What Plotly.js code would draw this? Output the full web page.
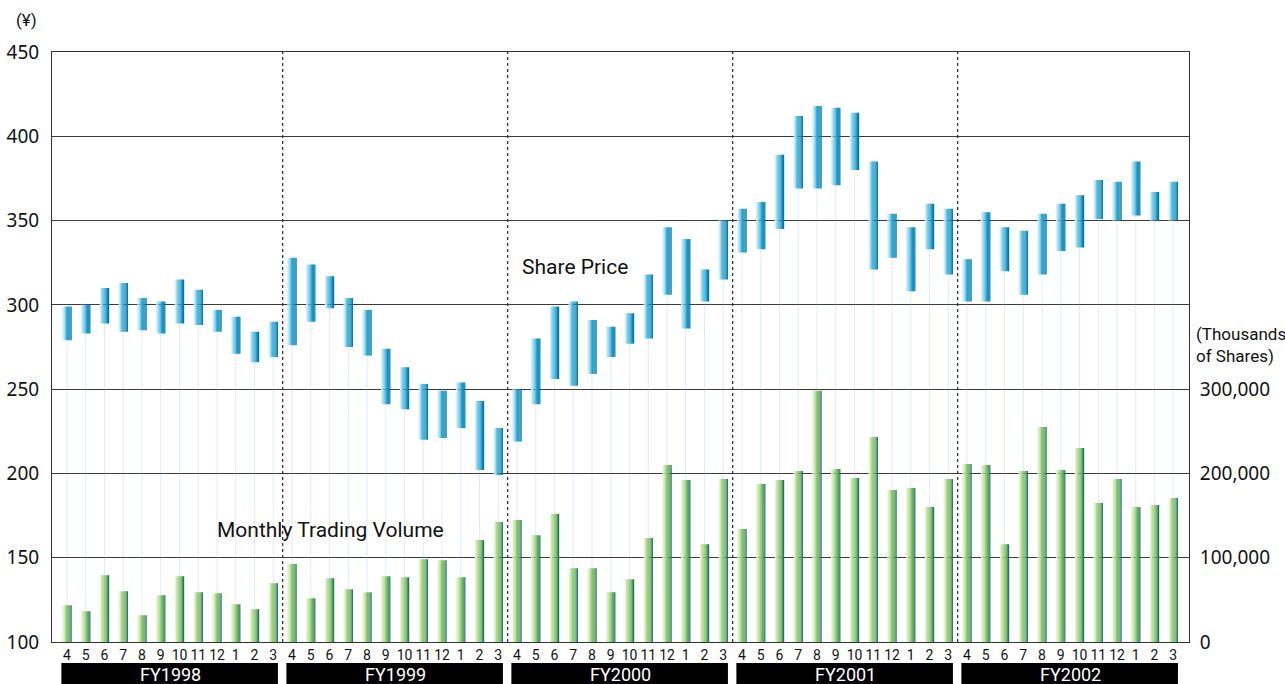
<!DOCTYPE html>
<html>
<head>
<meta charset="utf-8">
<script src="https://cdn.plot.ly/plotly-3.0.1.min.js"></script>
<style>html,body{margin:0;padding:0;background:#fff;}#chart{width:1285px;height:684px;}</style>
</head>
<body>
<div id="chart"></div>
<script>
// ---- data ----
const fiscalYears = ['FY1998','FY1999','FY2000','FY2001','FY2002'];
const monthLabels = ['4','5','6','7','8','9','10','11','12','1','2','3'];
// monthly share price range (yen)
const priceHigh = [299,300,310,313,304,302,315,309,297,293,284,290,
                   328,324,317,304,297,274,263,253,249,254,243,227,
                   250,280,299,302,291,287,295,318,346,339,321,350,
                   357,361,389,412,418,417,414,385,354,346,360,357,
                   327,355,346,344,354,360,365,374,373,385,367,373];
const priceLow  = [279,283,289,284,285,283,289,288,284,271,266,269,
                   276,290,298,275,270,241,238,220,221,227,202,199,
                   219,241,256,252,259,269,277,280,306,286,302,315,
                   331,333,345,369,369,371,380,321,328,308,333,318,
                   302,302,320,306,318,332,334,351,350,353,350,350];
// monthly trading volume (thousands of shares)
const volume    = [43600,36500,79300,60300,31700,55500,78100,59100,57900,44800,38900,69800,
                   92400,51900,75700,62600,59100,78100,76900,98300,97100,76900,120900,142300,
                   144700,126800,151800,87600,87600,59100,74500,123300,210000,192200,116100,193400,
                   134000,187500,192200,202900,298000,205300,194600,243300,180300,182700,160100,193400,
                   211200,210000,116100,202900,255200,204100,230300,164900,193400,160100,162500,170800];
const volTickVals = [0,100000,200000,300000];
const volTickText = ['0','100,000','200,000','300,000'];

// ---- build ----
const idx = priceHigh.map((_, i) => i);
const ticktext = [];
fiscalYears.forEach(() => monthLabels.forEach(m => ticktext.push(m)));

const narrow = 'Roboto, "Noto Sans", sans-serif';
const regular = '"Noto Sans", "Liberation Sans", sans-serif';

const priceGrad = ['#d6eef7','#a5dcef','#6cc7e7','#3bb5de','#1aa6d5','#0f97c9','#0a87bb','#066fa6'];
const volGrad   = ['#e6f3d8','#cde8b5','#b0da93','#95ce77','#7dc263','#65b553','#4ea24a','#1f6a86'];
const BW = 0.5;
const N = priceGrad.length;

const traces = [];
// faint drop lines
const dx = [], dy = [];
idx.forEach(i => { dx.push(i, i, null); dy.push(priceLow[i], 100, null); });
traces.push({type:'scatter', mode:'lines', x:dx, y:dy, yaxis:'y',
  line:{color:'rgba(130,175,215,0.25)', width:1}, hoverinfo:'skip', showlegend:false});

for (let s = 0; s < N; s++) {
  traces.push({type:'bar', x:idx, y:volume, base:0, yaxis:'y2',
    width:BW/N, offset:-BW/2 + s*BW/N,
    marker:{color:volGrad[s], line:{width:0}}, showlegend:false, hoverinfo:'skip'});
}
for (let s = 0; s < N; s++) {
  traces.push({type:'bar', x:idx, y:priceHigh.map((h,i)=>h-priceLow[i]), base:priceLow, yaxis:'y',
    width:BW/N, offset:-BW/2 + s*BW/N,
    marker:{color:priceGrad[s], line:{width:0}}, showlegend:false, hoverinfo:'skip'});
}

const shapes = [];
const annotations = [];
fiscalYears.forEach((fy, k) => {
  const start = k*monthLabels.length;
  const end = start + monthLabels.length - 1;
  if (k > 0) {
    shapes.push({type:'line', xref:'x', yref:'y', x0:start-0.5, x1:start-0.5, y0:100, y1:450,
      line:{color:'#333', width:1.3, dash:'dot'}});
  }
  shapes.push({type:'rect', xref:'x', yref:'paper', x0:start-0.3, x1:end+0.25, y0:-0.0356, y1:-0.09,
    fillcolor:'#000', line:{width:0}});
  annotations.push({xref:'x', yref:'paper', x:(start+end)/2, y:-0.055, text:fy, showarrow:false,
    xanchor:'center', yanchor:'middle', font:{family:narrow, size:18, color:'#fff'}});
});

annotations.push({xref:'x', yref:'y', x:24.15, y:322.7, text:'Share Price', showarrow:false,
  xanchor:'left', yanchor:'middle', font:{family:narrow, size:21, color:'#111'}});
annotations.push({xref:'x', yref:'y', x:7.9, y:166.4, text:'Monthly Trading Volume', showarrow:false,
  xanchor:'left', yanchor:'middle', font:{family:narrow, size:21, color:'#111'}});
annotations.push({xref:'paper', yref:'paper', x:-0.022, y:1.054, text:'(¥)', showarrow:false,
  xanchor:'center', yanchor:'middle', font:{family:narrow, size:17, color:'#111'}});
annotations.push({xref:'paper', yref:'paper', x:1.004, y:0.503, text:'(Thousands<br>of Shares)', showarrow:false,
  xanchor:'left', yanchor:'middle', align:'left', font:{family:narrow, size:17, color:'#111'}});

const layout = {
  width:1285, height:684,
  margin:{l:52, r:96, t:52, b:42},
  paper_bgcolor:'#fff', plot_bgcolor:'#fff',
  barmode:'overlay',
  showlegend:false,
  xaxis:{type:'linear', range:[-0.8, 59.84], tickmode:'array', tickvals:idx, ticktext:ticktext,
    tickangle:0, showgrid:false, zeroline:false, showline:true, linecolor:'#333', linewidth:1, mirror:true,
    ticks:'', ticklabelstandoff:0, tickfont:{family:narrow, size:14, color:'#111'}, fixedrange:true},
  yaxis:{range:[100,450], tickmode:'array', tickvals:[100,150,200,250,300,350,400,450],
    showgrid:true, gridcolor:'#3a3a3a', gridwidth:1, zeroline:false,
    showline:true, linecolor:'#333', linewidth:1, ticks:'', ticklabelstandoff:8,
    tickfont:{family:regular, size:19, color:'#111'}, fixedrange:true},
  yaxis2:{range:[0,700000], overlaying:'y', side:'right', tickmode:'array',
    tickvals:volTickVals, ticktext:volTickText, showgrid:false, zeroline:false,
    showline:true, linecolor:'#333', linewidth:1, ticks:'', ticklabelstandoff:6,
    tickfont:{family:regular, size:19, color:'#111'}, fixedrange:true},
  shapes:shapes,
  annotations:annotations
};

Plotly.newPlot('chart', traces, layout, {staticPlot:true, displayModeBar:false});
</script>
</body>
</html>
